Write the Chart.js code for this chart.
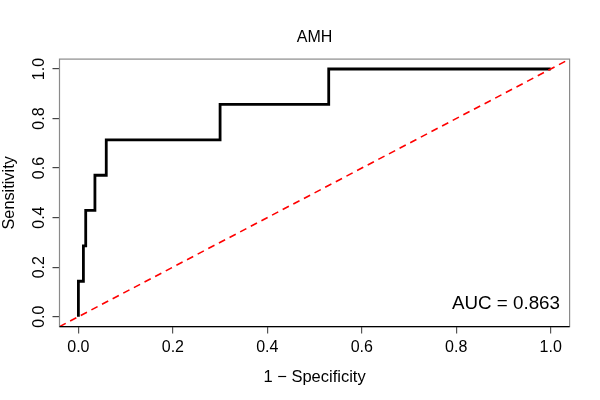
<!DOCTYPE html>
<html>
<head>
<meta charset="utf-8">
<script src="https://cdn.jsdelivr.net/npm/chart.js@4/dist/chart.umd.min.js"></script>
<style>
  body { margin: 0; background: #fff; }
  canvas { display: block; }
</style>
</head>
<body>
<canvas id="roc" width="600" height="400"></canvas>
<script>
// ROC points (1 - specificity, sensitivity)
const fpr = [0, 0, 0.0106, 0.0106, 0.0155, 0.0155, 0.035, 0.035, 0.059, 0.059, 0.30, 0.30, 0.53, 0.53, 1];
const tpr = [0, 0.143, 0.143, 0.286, 0.286, 0.429, 0.429, 0.571, 0.571, 0.714, 0.714, 0.857, 0.857, 1, 1];

// reference diagonal across the plot region
const diagX = [-0.04, 1.04];
const diagY = [-0.04, 1.04];

const xTicks = [0, 0.2, 0.4, 0.6, 0.8, 1.0];
const yTicks = [0, 0.2, 0.4, 0.6, 0.8, 1.0];
const tickLabels = ["0.0", "0.2", "0.4", "0.6", "0.8", "1.0"];

const titleText = "AMH";
const xTitle = "1 \u2212 Specificity";
const yTitle = "Sensitivity";
const aucText = "AUC = 0.863";

const FONT = '"Liberation Sans", Arial, sans-serif';

// R-style box, titles and rotated y labels
const decorations = {
  id: 'decorations',
  afterDraw(chart) {
    const ctx = chart.ctx;
    const a = chart.chartArea;
    const ys = chart.scales.y;
    ctx.save();

    // box
    ctx.strokeStyle = '#8a8a8a';
    ctx.lineWidth = 1.2;
    ctx.strokeRect(a.left, a.top, a.right - a.left, a.bottom - a.top);
    ctx.strokeStyle = '#000';
    ctx.beginPath();
    ctx.moveTo(a.left, a.bottom);
    ctx.lineTo(a.right, a.bottom);
    ctx.stroke();

    ctx.fillStyle = '#000';
    const cx = (a.left + a.right) / 2;

    ctx.font = '16px ' + FONT;
    ctx.textAlign = 'center';
    ctx.textBaseline = 'alphabetic';
    ctx.fillText(titleText, cx, 41.7);

    ctx.font = '16.5px ' + FONT;
    ctx.fillText(xTitle, cx, 381.7);

    // y tick labels, rotated like R
    ctx.font = '16px ' + FONT;
    yTicks.forEach((v, i) => {
      const py = ys.getPixelForValue(v);
      ctx.save();
      ctx.translate(43.5, py);
      ctx.rotate(-Math.PI / 2);
      ctx.fillText(tickLabels[i], 0, 0);
      ctx.restore();
    });

    ctx.save();
    ctx.font = '16.3px ' + FONT;
    ctx.translate(13.5, (a.top + a.bottom) / 2);
    ctx.rotate(-Math.PI / 2);
    ctx.fillText(yTitle, 0, 0);
    ctx.restore();

    ctx.font = '18.8px ' + FONT;
    ctx.textAlign = 'right';
    ctx.fillText(aucText, 560, 309.3);

    ctx.restore();
  }
};

new Chart(document.getElementById('roc'), {
  type: 'scatter',
  data: {
    datasets: [{
      label: 'ROC',
      data: fpr.map((x, i) => ({ x: x, y: tpr[i] })),
      showLine: true,
      borderColor: '#000',
      borderWidth: 2.8,
      pointRadius: 0,
      fill: false,
      order: 1
    }, {
      label: 'diagonal',
      data: diagX.map((x, i) => ({ x: x, y: diagY[i] })),
      showLine: true,
      borderColor: '#ff0000',
      borderWidth: 1.6,
      borderDash: [7, 5],
      pointRadius: 0,
      fill: false,
      order: 0
    }]
  },
  options: {
    responsive: false,
    devicePixelRatio: 1,
    animation: false,
    layout: { padding: { top: 59.1, right: 30.4, left: 0, bottom: 0 } },
    plugins: {
      legend: { display: false },
      tooltip: { enabled: false },
      title: { display: false }
    },
    scales: {
      x: {
        type: 'linear',
        min: -0.04,
        max: 1.04,
        afterBuildTicks: s => { s.ticks = xTicks.map(v => ({ value: v })); },
        afterFit: s => { s.height = 73.4; },
        ticks: {
          color: '#000',
          font: { family: FONT, size: 16 },
          padding: 4.5,
          maxRotation: 0,
          callback: (v) => tickLabels[xTicks.indexOf(v)]
        },
        grid: { drawOnChartArea: false, drawTicks: true, tickLength: 7, color: '#555', lineWidth: 1.2 },
        border: { display: false }
      },
      y: {
        type: 'linear',
        min: -0.04,
        max: 1.04,
        afterBuildTicks: s => { s.ticks = yTicks.map(v => ({ value: v })); },
        afterFit: s => { s.width = 59.5; },
        ticks: {
          color: 'rgba(0,0,0,0)',
          font: { family: FONT, size: 16 },
          callback: () => ''
        },
        grid: { drawOnChartArea: false, drawTicks: true, tickLength: 7, color: '#444', lineWidth: 1.2 },
        border: { display: false }
      }
    }
  },
  plugins: [decorations]
});
</script>
</body>
</html>
